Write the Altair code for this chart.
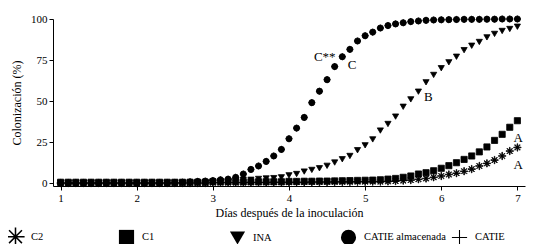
import altair as alt
import pandas as pd

days = [1.0, 1.1, 1.2, 1.3, 1.4, 1.5, 1.6, 1.7, 1.8, 1.9,
        2.0, 2.1, 2.2, 2.3, 2.4, 2.5, 2.6, 2.7, 2.8, 2.9,
        3.0, 3.1, 3.2, 3.3, 3.4, 3.5, 3.6, 3.7, 3.8, 3.9,
        4.0, 4.1, 4.2, 4.3, 4.4, 4.5, 4.6, 4.7, 4.8, 4.9,
        5.0, 5.1, 5.2, 5.3, 5.4, 5.5, 5.6, 5.7, 5.8, 5.9,
        6.0, 6.1, 6.2, 6.3, 6.4, 6.5, 6.6, 6.7, 6.8, 6.9, 7.0]

c2 = [0] * 20 + \
     [0.2, 0.2, 0.3, 0.3, 0.3, 0.4, 0.4, 0.4, 0.5, 0.5] + \
     [0.5, 0.5, 0.5, 0.6, 0.6, 0.6, 0.7, 0.7, 0.7, 0.8, 0.8, 0.9, 0.9] + \
     [1.0, 1.2, 1.5, 1.8, 2.3, 2.8, 3.5, 4.3, 5.2, 6.0, 7.2, 8.5, 10.4, 12.0, 14.0, 16.5, 19.5, 21.7]

c1 = [0.5] * 20 + [0.8] * 10 + \
     [1.0, 1.0, 1.1, 1.1, 1.2, 1.2, 1.3, 1.4, 1.5, 1.6, 1.7] + \
     [1.8, 2.0, 2.4, 2.8, 3.5, 4.3, 5.5, 6.3, 7.5, 9.0, 10.6, 12.4, 14.4, 16.5, 19.0, 22.0, 26.0, 29.7, 34.0, 38.0]

ina = [0] * 20 + \
      [0.5, 0.8, 1.0, 1.5, 2.0, 2.0, 2.5, 2.8, 3.0, 3.5] + \
      [4.7, 5.5, 7.0, 8.0, 9.0, 10.5, 12.5, 14.5, 16.5, 20.0, 23.0] + \
      [26.6, 32.0, 36.0, 40.5, 46.5, 51.0, 55.7, 61.4, 65.9, 70.0] + \
      [73.6, 77.0, 81.0, 83.7, 86.0, 88.8, 90.9, 92.7, 93.9, 95.3]

almacenada = [0] * 15 + \
     [0.3, 0.5, 0.7, 1.0, 1.2] + \
     [1.5, 2.0, 2.4, 3.5, 5.5, 8.3, 10.4, 13.2, 16.5, 20.5] + \
     [27.0, 33.5, 40.0, 49.0, 56.0, 63.0, 71.0, 77.0, 81.5, 86.6] + \
     [89.8, 92.0, 94.5, 96.0, 97.0, 97.7, 98.4, 98.8, 99.2, 99.4] + \
     [99.5, 99.6, 99.7, 99.8, 99.8, 99.8, 99.9, 99.9, 100, 100, 100]

# CATIE markers are not visible in the reference: they lie under the CATIE almacenada circles
catie = [0] * 15 + \
     [0.3, 0.5, 0.7, 1.0, 1.2] + \
     [1.5, 2.0, 2.4, 3.5, 5.5, 8.3, 10.4, 13.2, 16.5, 20.5] + \
     [27.0, 33.5, 40.0, 49.0, 56.0, 63.0, 71.0, 77.0, 81.5, 86.6] + \
     [89.8, 92.0, 94.5, 96.0, 97.0, 97.7, 98.4, 98.8, 99.2, 99.4] + \
     [99.5, 99.6, 99.7, 99.8, 99.8, 99.8, 99.9, 99.9, 100, 100, 100]

series_names = ["C2", "C1", "INA", "CATIE almacenada", "CATIE"]

ann_labels = ["C**", "C", "B", "A", "A"]
ann_x = [4.47, 4.83, 5.83, 7.01, 7.01]
ann_y = [77, 72, 52.6, 27.2, 11]

# filled-outline glyphs (thin bars) so that they render with fill only
asterisk = ("M-1.2,-0.1L1.2,-0.1L1.2,0.1L-1.2,0.1Z"
            "M-0.1,-1.2L0.1,-1.2L0.1,1.2L-0.1,1.2Z"
            "M-0.778,-0.919L0.919,0.778L0.778,0.919L-0.919,-0.778Z"
            "M-0.919,0.778L0.778,-0.919L0.919,-0.778L-0.778,0.919Z")
plus = "M-1,-0.07L-0.07,-0.07L-0.07,-1L0.07,-1L0.07,-0.07L1,-0.07L1,0.07L0.07,0.07L0.07,1L-0.07,1L-0.07,0.07L-1,0.07Z"

rows = []
for name, vals in [("CATIE", catie), ("C2", c2), ("C1", c1), ("INA", ina), ("CATIE almacenada", almacenada)]:
    for d, v in zip(days, vals):
        rows.append({"dia": d, "col": v, "serie": name})
df = pd.DataFrame(rows)
ann = pd.DataFrame({"label": ann_labels, "x": ann_x, "y": ann_y})

FONT = "Liberation Serif"

xscale = alt.Scale(domain=[0.9, 7.1], nice=False, zero=False)
yscale = alt.Scale(domain=[-1.8, 100], nice=False, zero=False)

points = alt.Chart(df).mark_point(
    filled=True, strokeWidth=0.8, opacity=1, size=38
).encode(
    x=alt.X("dia:Q", scale=xscale,
            axis=alt.Axis(values=[1, 2, 3, 4, 5, 6, 7], format="d",
                          title="Días después de la inoculación")),
    y=alt.Y("col:Q", scale=yscale,
            axis=alt.Axis(values=[0, 25, 50, 75, 100], title="Colonización (%)")),
    fill=alt.value("black"),
    stroke=alt.value("black"),
    shape=alt.Shape("serie:N",
                    scale=alt.Scale(domain=series_names,
                                    range=[asterisk, "square", "triangle-down", "circle", plus]),
                    legend=alt.Legend(title=None, orient="none", direction="horizontal",
                                      columns=5, legendX=-46, legendY=209,
                                      symbolSize=230, symbolFillColor="black",
                                      symbolStrokeColor="black", symbolStrokeWidth=1,
                                      symbolOpacity=1,
                                      labelFont=FONT, labelFontSize=10.5, labelColor="black",
                                      labelOffset=7, columnPadding=3, gridAlign="all")),
)

texts = alt.Chart(ann).mark_text(
    font=FONT, fontSize=13, color="black", align="center", baseline="middle"
).encode(x=alt.X("x:Q", scale=xscale), y=alt.Y("y:Q", scale=yscale), text="label:N")

chart = alt.layer(points, texts).properties(
    width=472, height=167,
    autosize=alt.AutoSizeParams(type="none"),
    padding={"left": 45, "top": 11, "right": 10, "bottom": 58},
).configure_view(stroke=None).configure_axis(
    labelFont=FONT, labelFontSize=11, labelColor="black",
    titleFont=FONT, titleFontSize=12, titleFontWeight="normal", titleColor="black",
    domainColor="black", tickColor="black", tickSize=4, grid=False,
    labelPadding=2,
).configure_axisX(titlePadding=4).configure_axisY(titlePadding=7)

chart.save("out.html", embed_options={"renderer": "svg", "actions": False})
